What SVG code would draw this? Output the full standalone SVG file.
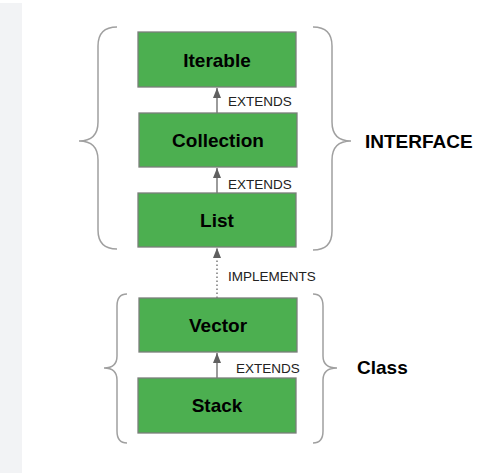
<svg xmlns="http://www.w3.org/2000/svg" width="492" height="473" viewBox="0 0 492 473">
<defs>
<marker id="ah" markerWidth="10" markerHeight="8" refX="10" refY="4" orient="auto" markerUnits="userSpaceOnUse" viewBox="0 0 10 8">
<path d="M0 0 L10 4 L0 8 Z" fill="#606060"/>
</marker>
</defs>
<style>
.box{fill:#4caf50;stroke:#7a7f7a;stroke-width:1.3}
.lbl{font-family:"Liberation Sans",Arial,sans-serif;font-weight:bold;font-size:19px;fill:#000;text-anchor:middle}
.side{font-family:"Liberation Sans",Arial,sans-serif;font-weight:bold;font-size:19px;fill:#000}
.edge{font-family:"Liberation Sans",Arial,sans-serif;font-size:13.5px;fill:#222}
.ln{stroke:#666;stroke-width:1.3;fill:none}
.brace{stroke:#a0a0a0;stroke-width:1.5;fill:none}
</style>
<rect x="0" y="0" width="492" height="473" fill="#fff"/>
<rect x="0" y="3" width="22" height="470" fill="#f2f3f5"/>
<g id="braces">
<path class="brace" d="M117 27 Q98 27 98 46 L98 122 Q98 141 79 141 Q98 141 98 160 L98 230 Q98 249 117 249"/>
<path class="brace" d="M313 27 Q332 27 332 46 L332 122 Q332 141 351 141 Q332 141 332 160 L332 231 Q332 250 313 250"/>
<path class="brace" d="M127 294 Q117 294 117 306 L117 356 Q117 368 104 368 Q117 368 117 380 L117 431 Q117 443 127 443"/>
<path class="brace" d="M313 294 Q323 294 323 306 L323 356 Q323 368 337 368 Q323 368 323 380 L323 431 Q323 443 313 443"/>
</g>
<g id="connectors">
<line class="ln" x1="217" y1="113" x2="217" y2="88" marker-end="url(#ah)"/>
<line class="ln" x1="217" y1="193" x2="217" y2="168" marker-end="url(#ah)"/>
<line class="ln" x1="217" y1="298" x2="217" y2="248" stroke-dasharray="1.5 2.5" marker-end="url(#ah)"/>
<line class="ln" x1="217" y1="378" x2="217" y2="353" marker-end="url(#ah)"/>
<text class="edge" x="228" y="106">EXTENDS</text>
<text class="edge" x="228" y="189">EXTENDS</text>
<text class="edge" x="228" y="281">IMPLEMENTS</text>
<text class="edge" x="236" y="373">EXTENDS</text>
</g>
<g id="iterable"><rect class="box" x="138" y="32" width="158" height="55"/><text class="lbl" x="217" y="67">Iterable</text></g>
<g id="collection"><rect class="box" x="139" y="113" width="158" height="54"/><text class="lbl" x="218" y="147">Collection</text></g>
<g id="list"><rect class="box" x="138" y="193" width="158" height="54"/><text class="lbl" x="217" y="227">List</text></g>
<g id="vector"><rect class="box" x="139" y="298" width="158" height="54"/><text class="lbl" x="218" y="332">Vector</text></g>
<g id="stack"><rect class="box" x="138" y="378" width="158" height="55"/><text class="lbl" x="217" y="412">Stack</text></g>
<text class="side" x="365" y="148">INTERFACE</text>
<text class="side" x="357" y="374">Class</text>
</svg>
